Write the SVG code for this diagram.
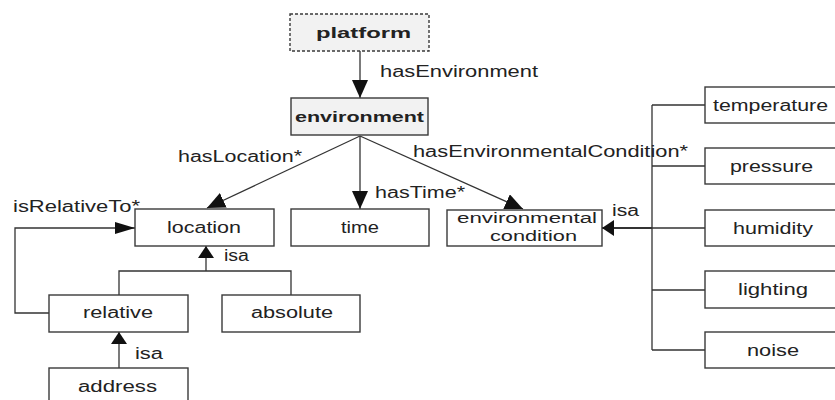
<svg xmlns="http://www.w3.org/2000/svg" width="835" height="400" viewBox="0 0 835 400">
  <style>
    .box { fill: #ffffff; stroke: #3a3a3a; stroke-width: 1.4; }
    .root { fill: #f2f2f2; }
    .dashed { stroke-dasharray: 3 2; }
    .lbl { font-family: "Liberation Sans", Arial, sans-serif; font-size: 16px; fill: #222; }
    .bold { font-weight: bold; font-size: 15px; }
    .small { font-size: 14px; }
    .edge { fill: none; stroke: #333; stroke-width: 1.3; }
    .thick { stroke-width: 2.2; }
  </style>
  <defs>
    <marker id="big" markerUnits="userSpaceOnUse" viewBox="0 0 18 16" refX="18" refY="8" markerWidth="18" markerHeight="16" orient="auto">
      <path d="M0,0 L18,8 L0,16 Z" fill="#111"/>
    </marker>
    <marker id="isa" markerUnits="userSpaceOnUse" viewBox="0 0 12 16" refX="12" refY="8" markerWidth="12" markerHeight="16" orient="auto">
      <path d="M0,0 L12,8 L0,16 Z" fill="#111"/>
    </marker>
    <marker id="rel" markerUnits="userSpaceOnUse" viewBox="0 0 20 12" refX="20" refY="6" markerWidth="20" markerHeight="12" orient="auto">
      <path d="M0,0 L20,6 L0,12 Z" fill="#111"/>
    </marker>
  </defs>

  <g id="connectors">
    <line class="edge" x1="360" y1="51" x2="360" y2="98" marker-end="url(#big)"/>
    <line class="edge" x1="360" y1="136" x2="207" y2="208" marker-end="url(#big)"/>
    <line class="edge" x1="360" y1="136" x2="360" y2="209" marker-end="url(#big)"/>
    <line class="edge" x1="360" y1="136" x2="523" y2="209" marker-end="url(#big)"/>
    <polyline class="edge" points="49,313 15,313 15,228 135,228" marker-end="url(#rel)"/>
    <path class="edge" d="M119,295 V271 H291 V295"/>
    <line class="edge" x1="206" y1="271" x2="206" y2="246" marker-end="url(#isa)"/>
    <line class="edge" x1="119" y1="368" x2="119" y2="332" marker-end="url(#isa)"/>
    <path class="edge" d="M652,105 V350 M652,105 H705 M652,166 H705 M652,228 H705 M652,290 H705 M652,350 H705"/>
    <line class="edge thick" x1="652" y1="228" x2="602" y2="228" marker-end="url(#isa)"/>
    <text class="lbl" x="380" y="77" textLength="158" lengthAdjust="spacingAndGlyphs">hasEnvironment</text>
    <text class="lbl" x="178" y="162" textLength="124" lengthAdjust="spacingAndGlyphs">hasLocation*</text>
    <text class="lbl" x="413" y="157" textLength="275" lengthAdjust="spacingAndGlyphs">hasEnvironmentalCondition*</text>
    <text class="lbl" x="375" y="198" textLength="90" lengthAdjust="spacingAndGlyphs">hasTime*</text>
    <text class="lbl" x="13" y="212" textLength="127" lengthAdjust="spacingAndGlyphs">isRelativeTo*</text>
    <text class="lbl" x="224" y="261" textLength="25" lengthAdjust="spacingAndGlyphs">isa</text>
    <text class="lbl" x="135" y="359" textLength="28" lengthAdjust="spacingAndGlyphs">isa</text>
    <text class="lbl" x="612" y="216" textLength="27" lengthAdjust="spacingAndGlyphs">isa</text>
  </g>

  <g id="platform">
    <rect class="box root dashed" x="290" y="14" width="139" height="37"/>
    <text class="lbl bold" x="316" y="38" textLength="95" lengthAdjust="spacingAndGlyphs">platform</text>
  </g>
  <g id="environment">
    <rect class="box root" x="291" y="98" width="137" height="37"/>
    <text class="lbl bold" x="295" y="122" textLength="129" lengthAdjust="spacingAndGlyphs">environment</text>
  </g>
  <g id="location">
    <rect class="box" x="135" y="209" width="139" height="37"/>
    <text class="lbl" x="167" y="233" textLength="74" lengthAdjust="spacingAndGlyphs">location</text>
  </g>
  <g id="time">
    <rect class="box" x="291" y="209" width="138" height="37"/>
    <text class="lbl" x="341" y="233" textLength="38" lengthAdjust="spacingAndGlyphs">time</text>
  </g>
  <g id="environmental-condition">
    <rect class="box" x="447" y="210" width="155" height="36"/>
    <text class="lbl small" x="457" y="223" textLength="140" lengthAdjust="spacingAndGlyphs">environmental</text>
    <text class="lbl small" x="490" y="241" textLength="87" lengthAdjust="spacingAndGlyphs">condition</text>
  </g>
  <g id="relative">
    <rect class="box" x="49" y="295" width="139" height="37"/>
    <text class="lbl" x="83" y="318" textLength="70" lengthAdjust="spacingAndGlyphs">relative</text>
  </g>
  <g id="absolute">
    <rect class="box" x="222" y="295" width="138" height="37"/>
    <text class="lbl" x="251" y="318" textLength="82" lengthAdjust="spacingAndGlyphs">absolute</text>
  </g>
  <g id="address">
    <rect class="box" x="49" y="368" width="139" height="40"/>
    <text class="lbl" x="78" y="392" textLength="79" lengthAdjust="spacingAndGlyphs">address</text>
  </g>
  <g id="temperature">
    <rect class="box" x="705" y="87" width="140" height="36"/>
    <text class="lbl" x="713" y="111" textLength="115" lengthAdjust="spacingAndGlyphs">temperature</text>
  </g>
  <g id="pressure">
    <rect class="box" x="705" y="148" width="140" height="36"/>
    <text class="lbl" x="730" y="172" textLength="83" lengthAdjust="spacingAndGlyphs">pressure</text>
  </g>
  <g id="humidity">
    <rect class="box" x="705" y="210" width="140" height="36"/>
    <text class="lbl" x="733" y="234" textLength="80" lengthAdjust="spacingAndGlyphs">humidity</text>
  </g>
  <g id="lighting">
    <rect class="box" x="705" y="271" width="140" height="37"/>
    <text class="lbl" x="738" y="295" textLength="70" lengthAdjust="spacingAndGlyphs">lighting</text>
  </g>
  <g id="noise">
    <rect class="box" x="705" y="332" width="140" height="36"/>
    <text class="lbl" x="747" y="356" textLength="52" lengthAdjust="spacingAndGlyphs">noise</text>
  </g>
</svg>
